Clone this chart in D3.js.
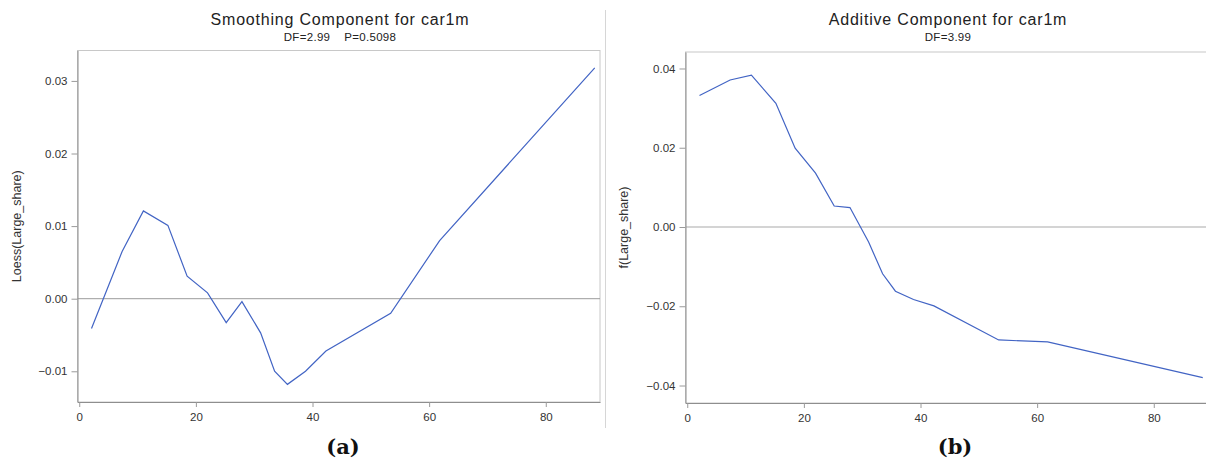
<!DOCTYPE html>
<html><head><meta charset="utf-8">
<script src="https://cdn.jsdelivr.net/npm/d3@7"></script>
<style>
html,body{margin:0;padding:0;background:#fff;}
svg{display:block;}
</style></head>
<body>
<svg id="chart" width="1206" height="463"></svg>
<script>
// ---- data ----
const largeShare = [2.1, 7.35, 11.0, 15.2, 18.5, 22.0, 25.2, 27.9, 31.1, 33.5, 35.7, 38.8, 42.3, 53.4, 61.8, 88.4];
const loessValues = [-0.0041, 0.0065, 0.0121, 0.0101, 0.0031, 0.0008, -0.0033, -0.0004, -0.0047, -0.0100, -0.0118, -0.0100, -0.0072, -0.0020, 0.0080, 0.0318];
const additiveValues = [0.0332, 0.0371, 0.0383, 0.0312, 0.0199, 0.0136, 0.0053, 0.0049, -0.0038, -0.0118, -0.0162, -0.0183, -0.0199, -0.0285, -0.0290, -0.0380];
const xTicks = [0, 20, 40, 60, 80];
const leftYTicks = [-0.01, 0.00, 0.01, 0.02, 0.03];
const rightYTicks = [-0.04, -0.02, 0.00, 0.02, 0.04];
const titles = ["Smoothing Component for car1m", "Additive Component for car1m"];
const subtitles = ["DF=2.99    P=0.5098", "DF=3.99"];
const yLabels = ["Loess(Large_share)", "f(Large_share)"];
const panelTags = ["(a)", "(b)"];

const svg = d3.select("#chart");
const FONT = "'Liberation Sans', Arial, sans-serif";
const LINE = "#4264c4";

const panels = [
  {x0: 77.5, y0: 50.5, y1: 402, yDomain: [-0.01423, 0.03419], ticks: leftYTicks, vals: loessValues,
   title: titles[0], sub: subtitles[0], ylab: yLabels[0], tag: panelTags[0], cx: 340, ylabX: 17, zeroColor: "#9c9c9c", zeroW: 1, tagX: 343},
  {x0: 685.5, y0: 52, y1: 403, yDomain: [-0.04441, 0.04416], ticks: rightYTicks, vals: additiveValues,
   title: titles[1], sub: subtitles[1], ylab: yLabels[1], tag: panelTags[1], cx: 948, ylabX: 624, zeroColor: "#c6c6c6", zeroW: 1.6, tagX: 955}
];
const plotW = 522.5;

panels.forEach(p => {
  const x = d3.scaleLinear().domain([-0.3, 89.3]).range([p.x0, p.x0 + plotW]);
  const y = d3.scaleLinear().domain(p.yDomain).range([p.y1, p.y0]);
  const g = svg.append("g");

  // frame
  g.append("rect").attr("x", p.x0).attr("y", p.y0)
    .attr("width", plotW).attr("height", p.y1 - p.y0)
    .attr("fill", "none").attr("stroke", "#c8c8c8").attr("stroke-width", 1);

  // zero reference line
  g.append("line").attr("x1", p.x0).attr("x2", p.x0 + plotW)
    .attr("y1", y(0)).attr("y2", y(0))
    .attr("stroke", p.zeroColor).attr("stroke-width", p.zeroW);

  // curve
  const pts = largeShare.map((d, i) => [d, p.vals[i]]);
  g.append("path").datum(pts)
    .attr("d", d3.line().x(d => x(d[0])).y(d => y(d[1])))
    .attr("fill", "none").attr("stroke", LINE).attr("stroke-width", 1.2);

  // axes
  const ya = g.append("g").attr("transform", `translate(${p.x0},0)`)
    .call(d3.axisLeft(y).tickValues(p.ticks).tickFormat(d3.format(".2f")).tickSizeInner(6).tickSizeOuter(0).tickPadding(4));
  const xa = g.append("g").attr("transform", `translate(0,${p.y1})`)
    .call(d3.axisBottom(x).tickValues(xTicks).tickFormat(d3.format("d")).tickSizeInner(5).tickSizeOuter(0).tickPadding(6));
  [ya, xa].forEach(a => {
    a.select(".domain").attr("stroke", "#8e8e8e");
    a.selectAll(".tick line").attr("stroke", "#9a9a9a");
    a.selectAll(".tick text").attr("fill", "#333").style("font-family", FONT).style("font-size", "11.5px");
  });

  // titles
  g.append("text").attr("x", p.cx).attr("y", 25).attr("text-anchor", "middle")
    .style("font-family", FONT).style("font-size", "16px").style("letter-spacing", "0.8px").attr("fill", "#222")
    .text(p.title);
  g.append("text").attr("x", p.cx).attr("y", 41).attr("text-anchor", "middle")
    .style("font-family", FONT).style("font-size", "11.5px").style("letter-spacing", "0.3px").style("white-space", "pre").attr("fill", "#222")
    .attr("xml:space", "preserve")
    .text(p.sub);

  // y label
  g.append("text").attr("transform", `translate(${p.ylabX},${(p.y0 + p.y1) / 2}) rotate(-90)`)
    .attr("text-anchor", "middle").attr("dy", "0.35em")
    .style("font-family", FONT).style("font-size", "12.5px").attr("fill", "#333")
    .text(p.ylab);

  // panel tag
  g.append("text").attr("x", p.tagX).attr("y", 454).attr("text-anchor", "middle")
    .style("font-family", "'DejaVu Serif', serif").style("font-weight", "bold").style("font-size", "21px").attr("fill", "#111")
    .text(p.tag);
});

// separator
svg.append("line").attr("x1", 605.5).attr("x2", 605.5).attr("y1", 10).attr("y2", 428)
  .attr("stroke", "#d6d6d6").attr("stroke-width", 1);
</script>
</body></html>
